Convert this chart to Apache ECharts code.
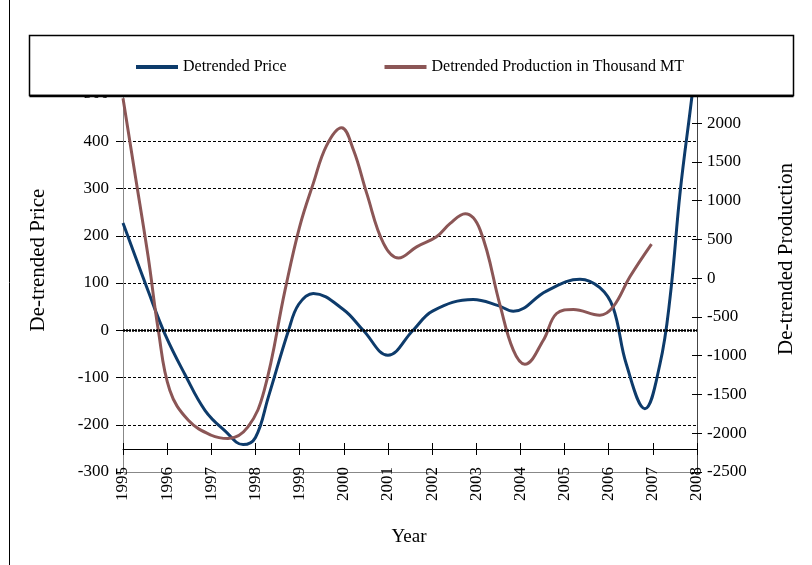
<!DOCTYPE html>
<html lang="en">
<head>
    <meta charset="UTF-8">
    <title>Detrended Price and Production</title>
    <script src="https://cdn.jsdelivr.net/npm/echarts@6/dist/echarts.min.js"></script>
    <style>
        body { margin: 0; background: #fff; }
        #chart { width: 812px; height: 565px; }
    </style>
</head>
<body>
    <div id="chart"></div>
<script>
    // values (year, value)
    var priceYears = [1995.0, 1995.57, 1995.95, 1996.4, 1996.86, 1997.31, 1997.72, 1998.0, 1998.29, 1998.75,
                      1998.98, 1999.31, 1999.99, 2000.44, 2001.0, 2001.57, 2002.02, 2002.93, 2003.5, 2003.84,
                      2004.59, 2005.35, 2005.8, 2006.1, 2006.4, 2006.82, 2007.16, 2007.39, 2007.62, 2007.88, 2008.0];
    var priceValues = [227, 83, -8, -93, -170, -213, -242, -227, -142, 0,
                       55, 78, 44, 0, -53, 0, 41, 65, 52, 40,
                       83, 108, 90, 48, -72, -166, -72, 69, 294, 491, 590];

    var prodYears = [1995.0, 1995.27, 1995.57, 1995.8, 1996.06, 1996.48, 1997.0, 1997.38, 1997.83, 1998.2,
                     1998.67, 1999.0, 1999.31, 1999.61, 1999.95, 2000.22, 2000.52, 2000.9, 2001.24, 2001.65,
                     2002.1, 2002.41, 2002.75, 2003.09, 2003.54, 2003.84, 2004.1, 2004.52, 2004.82, 2005.2,
                     2005.8, 2006.1, 2006.48, 2006.97];
    var prodValues = [2320, 1351, 275, -671, -1445, -1832, -2026, -2068, -1918, -1445,
                      -155, 662, 1222, 1710, 1940, 1652, 1093, 448, 260, 404,
                      533, 706, 830, 619, -350, -929, -1110, -800, -456, -404,
                      -477, -370, 17, 439];

    var seriesNames = ['Detrended Price', 'Detrended Production in Thousand MT'];
    var serif = 'Liberation Serif';

    function pairs(xs, ys) {
        var out = [];
        for (var i = 0; i < xs.length; i++) out.push([xs[i], ys[i]]);
        return out;
    }

    var chart = echarts.init(document.getElementById('chart'));

    var yearAxis = {
        type: 'value', min: 1995, max: 2008, interval: 1,
        splitLine: { show: false }
    };

    var option = {
        animation: false,
        backgroundColor: '#fff',
        grid: { left: 123, right: 115, top: 94, bottom: 93 },
        legend: {
            z: 60,
            left: 131, top: 54,
            itemWidth: 42, itemHeight: 4, itemGap: 98,
            icon: 'rect',
            data: seriesNames,
            textStyle: { fontFamily: serif, fontSize: 16, color: '#000' }
        },
        xAxis: [
            Object.assign({}, yearAxis, {
                position: 'bottom',
                axisLine: { onZero: false, lineStyle: { color: '#888', width: 1 } },
                axisTick: { show: false },
                axisLabel: { rotate: 90, margin: -5, fontFamily: serif, fontSize: 17, color: '#000',
                             formatter: function (v) { return String(v); } }
            }),
            Object.assign({}, yearAxis, {
                position: 'bottom', offset: -23,
                axisLine: { onZero: false, lineStyle: { color: '#000', width: 1 } },
                axisTick: { show: true, inside: true, length: 6, lineStyle: { color: '#000' } },
                axisLabel: { show: false }
            }),
            Object.assign({}, yearAxis, {
                position: 'bottom', offset: -23,
                axisLine: { show: false, onZero: false },
                axisTick: { show: true, inside: false, length: 6, lineStyle: { color: '#000' } },
                axisLabel: { show: false }
            })
        ],
        yAxis: [
            {
                type: 'value', min: -300, max: 500, interval: 100,
                position: 'left',
                axisLine: { show: true, lineStyle: { color: '#888' } },
                axisTick: { show: true, length: 7, lineStyle: { color: '#000' } },
                axisLabel: { fontFamily: serif, fontSize: 17, color: '#000', margin: 14,
                             formatter: function (v) { return String(v); } },
                splitLine: { show: true, lineStyle: { color: '#000', type: [3, 2], width: 1 } }
            },
            {
                type: 'value', min: -2500, max: 2375, interval: 500,
                position: 'right',
                axisLine: { show: true, lineStyle: { color: '#444' } },
                axisTick: { show: true, length: 5, lineStyle: { color: '#000' } },
                axisLabel: { fontFamily: serif, fontSize: 17, color: '#000', margin: 10, showMaxLabel: false,
                             formatter: function (v) { return String(v); } },
                splitLine: { show: false }
            },
            {
                type: 'value', min: -2500, max: 2375, interval: 500,
                position: 'right',
                axisLine: { show: false },
                axisTick: { show: true, inside: true, length: 5, lineStyle: { color: '#000' } },
                axisLabel: { show: false },
                splitLine: { show: false }
            }
        ],
        series: [
            {
                name: seriesNames[0],
                type: 'line',
                smooth: 0.4,
                showSymbol: false,
                xAxisIndex: 0, yAxisIndex: 0,
                color: '#0d3b6b',
                lineStyle: { width: 3, color: '#0d3b6b' },
                data: pairs(priceYears, priceValues),
                markLine: {
                    silent: true, symbol: 'none', label: { show: false },
                    lineStyle: { color: '#000', type: [2, 1], width: 2.5 },
                    data: [{ yAxis: 0 }]
                }
            },
            {
                name: seriesNames[1],
                type: 'line',
                smooth: 0.4,
                showSymbol: false,
                xAxisIndex: 0, yAxisIndex: 1,
                color: '#8b5656',
                lineStyle: { width: 3, color: '#8b5656' },
                data: pairs(prodYears, prodValues)
            }
        ],
        graphic: [
            { type: 'line', z: 50, shape: { x1: 9.5, y1: 0, x2: 9.5, y2: 565 }, style: { stroke: '#000', lineWidth: 1 } },
            { type: 'rect', z: 50, shape: { x: 29.5, y: 35.5, width: 764, height: 60 },
              style: { fill: '#fff', stroke: '#000', lineWidth: 1.5 } },
            { type: 'line', z: 51, shape: { x1: 29.5, y1: 96, x2: 793.5, y2: 96 }, style: { stroke: '#000', lineWidth: 2.5 } },
            { type: 'text', z: 50, x: 38, y: 260, rotation: Math.PI / 2,
              style: { text: 'De-trended Price', fontFamily: serif, fontSize: 21, fill: '#000',
                       textAlign: 'center', textVerticalAlign: 'middle' } },
            { type: 'text', z: 50, x: 786, y: 259, rotation: Math.PI / 2,
              style: { text: 'De-trended Production', fontFamily: serif, fontSize: 21, fill: '#000',
                       textAlign: 'center', textVerticalAlign: 'middle' } },
            { type: 'text', z: 50, x: 409, y: 537,
              style: { text: 'Year', fontFamily: serif, fontSize: 19, fill: '#000',
                       textAlign: 'center', textVerticalAlign: 'middle' } }
        ]
    };

    chart.setOption(option);
</script>
</body>
</html>
